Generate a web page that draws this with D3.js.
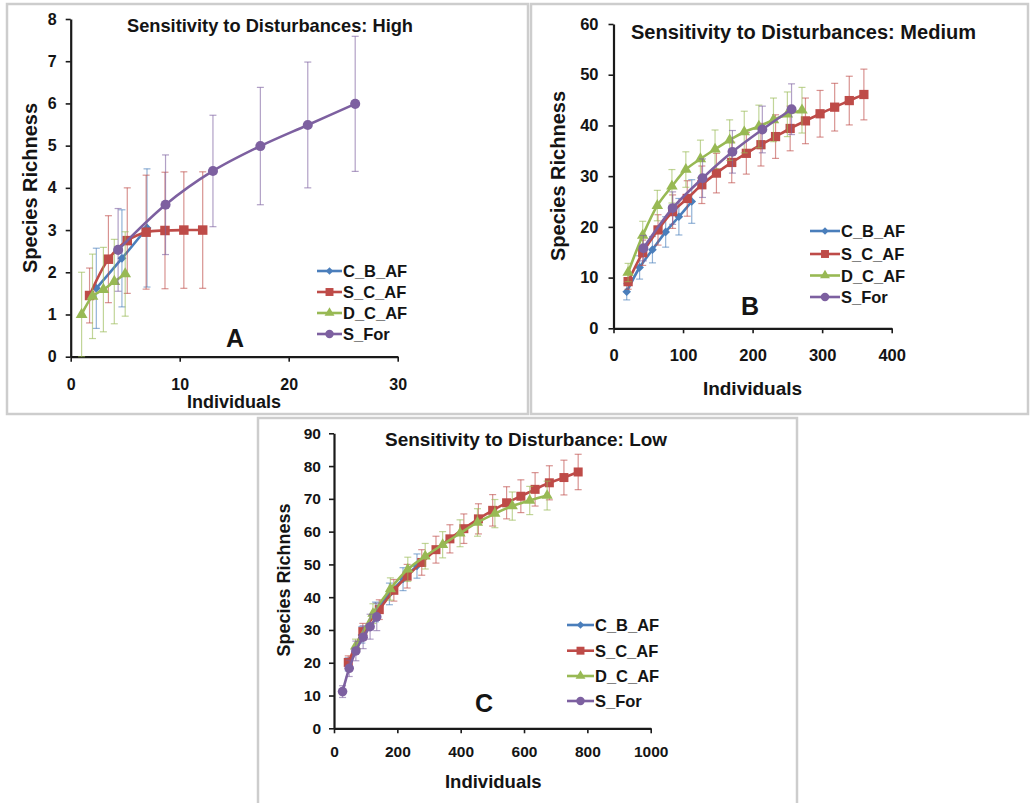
<!DOCTYPE html>
<html>
<head>
<meta charset="utf-8">
<script src="https://cdn.jsdelivr.net/npm/d3@7"></script>
<style>
  body { margin: 0; background: #fff; }
  svg text { font-family: "Liberation Sans", Arial, sans-serif; font-weight: bold; fill: #141414; }
</style>
</head>
<body>
<div id="chart"></div>
<script>
const seriesNames = ["C_B_AF", "S_C_AF", "D_C_AF", "S_For"];
const seriesColors = ["#4a7ebb", "#be4b48", "#98b954", "#7d60a0"];

// Panel A - high sensitivity
const highCbX = [2.35, 4.7, 7.0];
const highCbY = [1.62, 2.33, 3.05];
const highCbErr = [0.95, 1.15, 1.4];
const highScX = [1.73, 3.46, 5.19, 6.92, 8.65, 10.38, 12.11];
const highScY = [1.45, 2.31, 2.75, 2.95, 2.99, 3.0, 3.0];
const highScErr = [0.65, 1.03, 1.25, 1.35, 1.38, 1.38, 1.38];
const highDcX = [1, 2, 3, 4, 5];
const highDcY = [1.0, 1.43, 1.59, 1.78, 1.96];
const highDcErr = [1.0, 1.0, 1.0, 1.0, 1.0];
const highSfX = [4.35, 8.7, 13.05, 17.4, 21.75, 26.1];
const highSfY = [2.53, 3.6, 4.4, 4.99, 5.49, 5.99];
const highSfErr = [0.98, 1.18, 1.32, 1.39, 1.49, 1.6];
const highXTicks = [0, 10, 20, 30];
const highYTicks = [0, 1, 2, 3, 4, 5, 6, 7, 8];

// Panel B - medium sensitivity
const medCbX = [19, 37.5, 56, 75, 94, 112.5];
const medCbY = [7.2, 12, 15.5, 19, 22, 25];
const medCbErr = [1.6, 2.3, 2.6, 3.0, 3.6, 4.3];
const medScX = [21, 42, 64, 85, 106, 127, 148, 170, 191, 212, 233, 254, 276, 297, 318, 339, 360];
const medScY = [9.2, 14.9, 19.4, 23, 25.6, 28.3, 30.6, 32.7, 34.5, 36.2, 37.8, 39.4, 40.9, 42.3, 43.6, 44.9, 46.1];
const medScErr = [1.5, 2.5, 3.0, 3.3, 3.5, 3.7, 3.9, 4.0, 4.1, 4.2, 4.3, 4.4, 4.5, 4.6, 4.7, 4.8, 5.0];
const medDcX = [21, 42, 63, 84, 104, 125, 146, 167, 188, 209, 230, 250, 271];
const medDcY = [11, 18.3, 24.2, 28, 31.3, 33.4, 35.3, 37.1, 38.7, 39.8, 41.1, 42.2, 43];
const medDcErr = [1.8, 2.8, 3.0, 3.3, 3.5, 3.7, 3.8, 4.0, 4.1, 4.2, 4.3, 4.4, 4.5];
const medSfX = [43, 85, 128, 171, 214, 256];
const medSfY = [15.8, 23.7, 29.6, 34.8, 39.2, 43.2];
const medSfErr = [2.5, 3.2, 3.8, 4.2, 4.6, 5.0];
const medXTicks = [0, 100, 200, 300, 400];
const medYTicks = [0, 10, 20, 30, 40, 50, 60];

// Panel C - low sensitivity
const lowCbX = [45, 88, 131, 175, 218, 262];
const lowCbY = [19.5, 28.5, 35.5, 41, 45.5, 49.5];
const lowCbErr = [2, 2.5, 3, 3.3, 3.5, 3.7];
const lowScX = [45, 91, 143, 189, 231, 277, 322, 366, 410, 456, 501, 545, 590, 635, 680, 726, 771];
const lowScY = [20.1, 29.5, 36.2, 42.1, 46.4, 50.6, 54.5, 57.8, 60.9, 63.9, 66.5, 68.8, 70.8, 72.9, 74.9, 76.5, 78.2];
const lowScErr = [2, 2.5, 3, 3.3, 3.6, 3.9, 4.1, 4.3, 4.5, 4.6, 4.8, 4.9, 5.0, 5.1, 5.2, 5.3, 5.4];
const lowDcX = [68, 123, 178, 233, 288, 343, 398, 453, 508, 563, 618, 673];
const lowDcY = [25, 35, 42.5, 48.5, 52.5, 56, 59.5, 62.8, 65.5, 67.8, 69.5, 71];
const lowDcErr = [2.2, 3, 3.4, 3.7, 3.9, 4.0, 4.1, 4.2, 4.3, 4.3, 4.3, 4.4];
const lowSfX = [27, 48, 69, 92, 114, 135];
const lowSfY = [11.2, 18.3, 23.6, 27.8, 31, 34];
const lowSfErr = [1.8, 2.5, 3, 3.5, 3.8, 4.2];
const lowXTicks = [0, 200, 400, 600, 800, 1000];
const lowYTicks = [0, 10, 20, 30, 40, 50, 60, 70, 80, 90];

const zipSeries = (xs, ys, es) => xs.map((x, i) => ({ x: x, y: ys[i], e: es[i] }));

const panels = [
  {
    frame: [7, 4, 521, 410],
    title: "Sensitivity to Disturbances: High", titleX: 270, titleY: 31.5, titleSize: 18.5, titleLen: 286,
    letter: "A", letterX: 235, letterY: 347,
    xDomain: [0, 30], xRange: [70.7, 397.7], yDomain: [0, 8], yRange: [356.7, 19],
    xTicks: highXTicks, yTicks: highYTicks, tickFont: 16, xPad: 17, yPad: 9,
    xLabelX: 234, xLabelY: 408, xLabelSize: 18,
    yLabelX: 30, yLabelY: 188, yLabelSize: 20,
    legendX: 317, legendY: [271, 292, 313, 334], legendLine: 25, legendFont: 16.5,
    markScale: 1,
    series: [
      zipSeries(highCbX, highCbY, highCbErr),
      zipSeries(highScX, highScY, highScErr),
      zipSeries(highDcX, highDcY, highDcErr),
      zipSeries(highSfX, highSfY, highSfErr)
    ]
  },
  {
    frame: [531, 4, 497, 410],
    title: "Sensitivity to Disturbances: Medium", titleX: 803.5, titleY: 39.3, titleSize: 20, titleLen: 345,
    letter: "B", letterX: 750, letterY: 315,
    xDomain: [0, 400], xRange: [613.5, 891.7], yDomain: [0, 60], yRange: [328.3, 24],
    xTicks: medXTicks, yTicks: medYTicks, tickFont: 16.5, xPad: 16, yPad: 10,
    xLabelX: 752.5, xLabelY: 395, xLabelSize: 19,
    yLabelX: 558, yLabelY: 176, yLabelSize: 20,
    legendX: 810, legendY: [231, 254, 275.5, 297], legendLine: 30, legendFont: 16.5,
    markScale: 0.95,
    series: [
      zipSeries(medCbX, medCbY, medCbErr),
      zipSeries(medScX, medScY, medScErr),
      zipSeries(medDcX, medDcY, medDcErr),
      zipSeries(medSfX, medSfY, medSfErr)
    ]
  },
  {
    frame: [258, 418, 539, 392],
    title: "Sensitivity to Disturbance: Low", titleX: 526, titleY: 445.7, titleSize: 18.9, titleLen: 282,
    letter: "C", letterX: 484, letterY: 712,
    xDomain: [0, 1000], xRange: [334, 650.7], yDomain: [0, 90], yRange: [728.3, 433.3],
    xTicks: lowXTicks, yTicks: lowYTicks, tickFont: 15.5, xPad: 12.5, yPad: 8,
    xLabelX: 493.3, xLabelY: 788, xLabelSize: 18.5,
    yLabelX: 284, yLabelY: 580, yLabelSize: 18,
    legendX: 567, legendY: [625, 650.7, 676, 701], legendLine: 27, legendFont: 16.5,
    markScale: 0.9,
    series: [
      zipSeries(lowCbX, lowCbY, lowCbErr),
      zipSeries(lowScX, lowScY, lowScErr),
      zipSeries(lowDcX, lowDcY, lowDcErr),
      zipSeries(lowSfX, lowSfY, lowSfErr)
    ]
  }
];

const symbolTypes = [d3.symbolDiamond2, d3.symbolSquare, d3.symbolTriangle, d3.symbolCircle];
const symbolSizes = [50, 90, 60, 80];

const svg = d3.select("#chart").append("svg").attr("width", 1031).attr("height", 803);

const drawPanel = (p) => {
  const g = svg.append("g");

  g.append("rect")
    .attr("x", p.frame[0]).attr("y", p.frame[1])
    .attr("width", p.frame[2]).attr("height", p.frame[3])
    .attr("fill", "#fff").attr("stroke", "#cdcdcd").attr("stroke-width", 2.5);

  const x = d3.scaleLinear().domain(p.xDomain).range(p.xRange);
  const y = d3.scaleLinear().domain(p.yDomain).range(p.yRange);

  const xAxis = g.append("g")
    .attr("transform", `translate(0,${p.yRange[0]})`)
    .call(d3.axisBottom(x).tickValues(p.xTicks).tickFormat(d3.format("d"))
      .tickSize(5).tickSizeOuter(0).tickPadding(p.xPad));
  const yAxis = g.append("g")
    .attr("transform", `translate(${p.xRange[0]},0)`)
    .call(d3.axisLeft(y).tickValues(p.yTicks).tickFormat(d3.format("d"))
      .tickSize(5).tickSizeOuter(0).tickPadding(p.yPad));

  [xAxis, yAxis].forEach((a) => {
    a.select(".domain").attr("stroke", "#1a1a1a").attr("stroke-width", 2.2);
    a.selectAll(".tick line").attr("stroke", "#1a1a1a").attr("stroke-width", 1.6);
    a.selectAll(".tick text")
      .style("font-family", '"Liberation Sans", Arial, sans-serif')
      .style("font-weight", "bold")
      .style("font-size", p.tickFont + "px")
      .attr("fill", "#141414");
  });

  g.append("text")
    .attr("x", p.titleX).attr("y", p.titleY)
    .attr("text-anchor", "middle")
    .attr("textLength", p.titleLen).attr("lengthAdjust", "spacingAndGlyphs")
    .style("font-size", p.titleSize + "px")
    .text(p.title);

  g.append("text")
    .attr("x", p.xLabelX).attr("y", p.xLabelY)
    .attr("text-anchor", "middle")
    .style("font-size", p.xLabelSize + "px")
    .text("Individuals");

  g.append("text")
    .attr("transform", `translate(${p.yLabelX},${p.yLabelY}) rotate(-90)`)
    .attr("text-anchor", "middle")
    .attr("dominant-baseline", "central")
    .style("font-size", p.yLabelSize + "px")
    .text("Species Richness");

  g.append("text")
    .attr("x", p.letterX).attr("y", p.letterY)
    .attr("text-anchor", "middle")
    .style("font-size", "25px")
    .text(p.letter);

  const line = d3.line()
    .x((d) => x(d.x))
    .y((d) => y(d.y))
    .curve(d3.curveCatmullRom.alpha(0.5));

  p.series.forEach((data, i) => {
    const color = seriesColors[i];
    const sg = g.append("g");
    const bars = sg.selectAll(".err").data(data).enter().append("g")
      .attr("stroke", color).attr("stroke-opacity", 0.6).attr("stroke-width", 1.2);
    bars.append("line")
      .attr("x1", (d) => x(d.x)).attr("x2", (d) => x(d.x))
      .attr("y1", (d) => y(d.y - d.e)).attr("y2", (d) => y(d.y + d.e));
    [-1, 1].forEach((s) => {
      bars.append("line")
        .attr("x1", (d) => x(d.x) - 3.5).attr("x2", (d) => x(d.x) + 3.5)
        .attr("y1", (d) => y(d.y + s * d.e)).attr("y2", (d) => y(d.y + s * d.e));
    });

    sg.append("path")
      .datum(data)
      .attr("fill", "none")
      .attr("stroke", color)
      .attr("stroke-width", 2.6)
      .attr("d", line);

    sg.selectAll(".mark").data(data).enter().append("path")
      .attr("transform", (d) => `translate(${x(d.x)},${y(d.y)})`)
      .attr("d", d3.symbol().type(symbolTypes[i]).size(symbolSizes[i] * p.markScale))
      .attr("fill", color);
  });

  seriesNames.forEach((name, i) => {
    const ly = p.legendY[i];
    const lg = g.append("g");
    lg.append("line")
      .attr("x1", p.legendX).attr("x2", p.legendX + p.legendLine)
      .attr("y1", ly).attr("y2", ly)
      .attr("stroke", seriesColors[i]).attr("stroke-width", 2.6);
    lg.append("path")
      .attr("transform", `translate(${p.legendX + p.legendLine / 2},${ly})`)
      .attr("d", d3.symbol().type(symbolTypes[i]).size(symbolSizes[i] * 0.7))
      .attr("fill", seriesColors[i]);
    lg.append("text")
      .attr("x", p.legendX + p.legendLine + 1).attr("y", ly)
      .attr("dominant-baseline", "central")
      .style("font-size", p.legendFont + "px")
      .text(name);
  });
};

panels.forEach(drawPanel);
</script>
</body>
</html>
